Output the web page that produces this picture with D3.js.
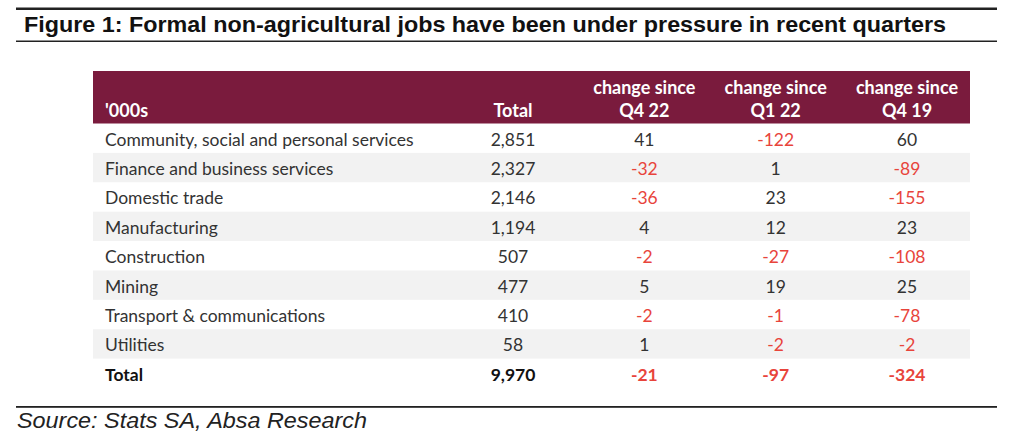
<!DOCTYPE html>
<html>
<head>
<meta charset="utf-8">
<script src="https://cdn.jsdelivr.net/npm/d3@7"></script>
<style>
	body { margin: 0; background: #fff; }
	svg { display: block; }
</style>
</head>
<body>
<div id="chart-area"></div>
<script>
// ** Data **
var sectors = [
	"Community, social and personal services",
	"Finance and business services",
	"Domestic trade",
	"Manufacturing",
	"Construction",
	"Mining",
	"Transport & communications",
	"Utilities",
	"Total"
];
var totals = [2851, 2327, 2146, 1194, 507, 477, 410, 58, 9970];
var changeQ422 = [41, -32, -36, 4, -2, 5, -2, 1, -21];
var changeQ122 = [-122, 1, 23, 12, -27, 19, -1, -2, -97];
var changeQ419 = [60, -89, -155, 23, -108, 25, -78, -2, -324];

var columnKeys = ["total", "q422", "q122", "q419"];
var headerLine1 = ["", "change since", "change since", "change since"];
var headerLine2 = ["Total", "Q4 22", "Q1 22", "Q4 19"];

var titleText = "Figure 1: Formal non-agricultural jobs have been under pressure in recent quarters";
var sourceText = "Source: Stats SA, Absa Research";

// ** Dimensions **
var width = 1024;
var height = 447;
var table = { left: 93, right: 970, headerTop: 71, headerBottom: 123.5, bottom: 388 };

var maroon = "#7a1b3d";
var red = "#e8443b";
var textColor = "#333";
var tableFont = "Lato, 'Source Sans Pro', sans-serif";
var bodySize = 17.5;
var headSize = 18;

// thousands separator, plain hyphen for negatives (d3 uses a unicode minus)
var format = d3.format(",");
var formatNumber = function(v){ return format(v).replace("\u2212", "-"); };

var rows = sectors.map(function(s, i){
	return {
		sector: s,
		total: totals[i],
		q422: changeQ422[i],
		q122: changeQ122[i],
		q419: changeQ419[i],
		isTotal: s == "Total"
	};
});

var svg = d3.select("#chart-area")
	.append("svg")
	.attr("width", width)
	.attr("height", height);

// Scales
var y = d3.scaleBand()
	.domain(d3.range(rows.length))
	.range([table.headerBottom, table.bottom]);
var x = d3.scalePoint()
	.domain(columnKeys)
	.range([513, 907]);

// ** Title block **
svg.append("rect")
	.attr("x", 16).attr("y", 7.5)
	.attr("width", 981).attr("height", 2.5)
	.attr("fill", "#222");
svg.append("text")
	.attr("x", 24)
	.attr("y", 32)
	.attr("font-family", "'Liberation Sans', Arial, sans-serif")
	.attr("font-weight", "bold")
	.attr("font-size", 22.5)
	.attr("textLength", 922)
	.attr("lengthAdjust", "spacingAndGlyphs")
	.attr("fill", "#111")
	.text(titleText);
svg.append("rect")
	.attr("x", 16).attr("y", 40.5)
	.attr("width", 981).attr("height", 1.5)
	.attr("fill", "#222");

// ** Header **
svg.append("rect")
	.attr("x", table.left)
	.attr("y", table.headerTop)
	.attr("width", table.right - table.left)
	.attr("height", table.headerBottom - table.headerTop)
	.attr("fill", maroon);

var header = svg.append("g")
	.attr("font-family", tableFont)
	.attr("font-weight", "bold")
	.attr("font-size", headSize)
	.attr("fill", "#fff");

header.append("text")
	.attr("x", 105)
	.attr("y", 110)
	.attr("dominant-baseline", "central")
	.text("'000s");

columnKeys.forEach(function(key, i){
	header.append("text")
		.attr("x", x(key))
		.attr("y", 87)
		.attr("text-anchor", "middle")
		.attr("dominant-baseline", "central")
		.text(headerLine1[i]);
	header.append("text")
		.attr("x", x(key))
		.attr("y", 110)
		.attr("text-anchor", "middle")
		.attr("dominant-baseline", "central")
		.text(headerLine2[i]);
});

// ** Body rows **
var rowG = svg.selectAll(".row")
	.data(rows)
	.enter()
	.append("g")
	.attr("class", "row")
	.attr("transform", function(d, i){ return "translate(0, " + y(i) + ")"; })
	.attr("font-family", tableFont)
	.attr("font-size", bodySize)
	.attr("font-weight", function(d){ return d.isTotal ? "bold" : "normal"; });

// shaded stripes on every other row
rowG.filter(function(d, i){ return i % 2 == 1 && !d.isTotal; })
	.append("rect")
	.attr("x", table.left)
	.attr("width", table.right - table.left)
	.attr("height", y.bandwidth())
	.attr("fill", "#f2f2f2");

rowG.append("text")
	.attr("x", 105)
	.attr("y", y.bandwidth() / 2 + 1)
	.attr("dominant-baseline", "central")
	.attr("fill", function(d){ return d.isTotal ? "#111" : textColor; })
	.text(function(d){ return d.sector; });

columnKeys.forEach(function(key){
	rowG.append("text")
		.attr("x", x(key))
		.attr("y", y.bandwidth() / 2 + 1)
		.attr("text-anchor", "middle")
		.attr("dominant-baseline", "central")
		.attr("fill", function(d){
			if (d[key] < 0) return red;
			return d.isTotal ? "#111" : textColor;
		})
		.text(function(d){ return formatNumber(d[key]); });
});

// ** Source **
svg.append("rect")
	.attr("x", 16).attr("y", 406)
	.attr("width", 981).attr("height", 1.8)
	.attr("fill", "#222");
svg.append("text")
	.attr("x", 17)
	.attr("y", 428)
	.attr("font-family", "'Liberation Sans', Arial, sans-serif")
	.attr("font-style", "italic")
	.attr("font-size", 21.5)
	.attr("textLength", 350)
	.attr("lengthAdjust", "spacingAndGlyphs")
	.attr("fill", "#222")
	.text(sourceText);
</script>
</body>
</html>
